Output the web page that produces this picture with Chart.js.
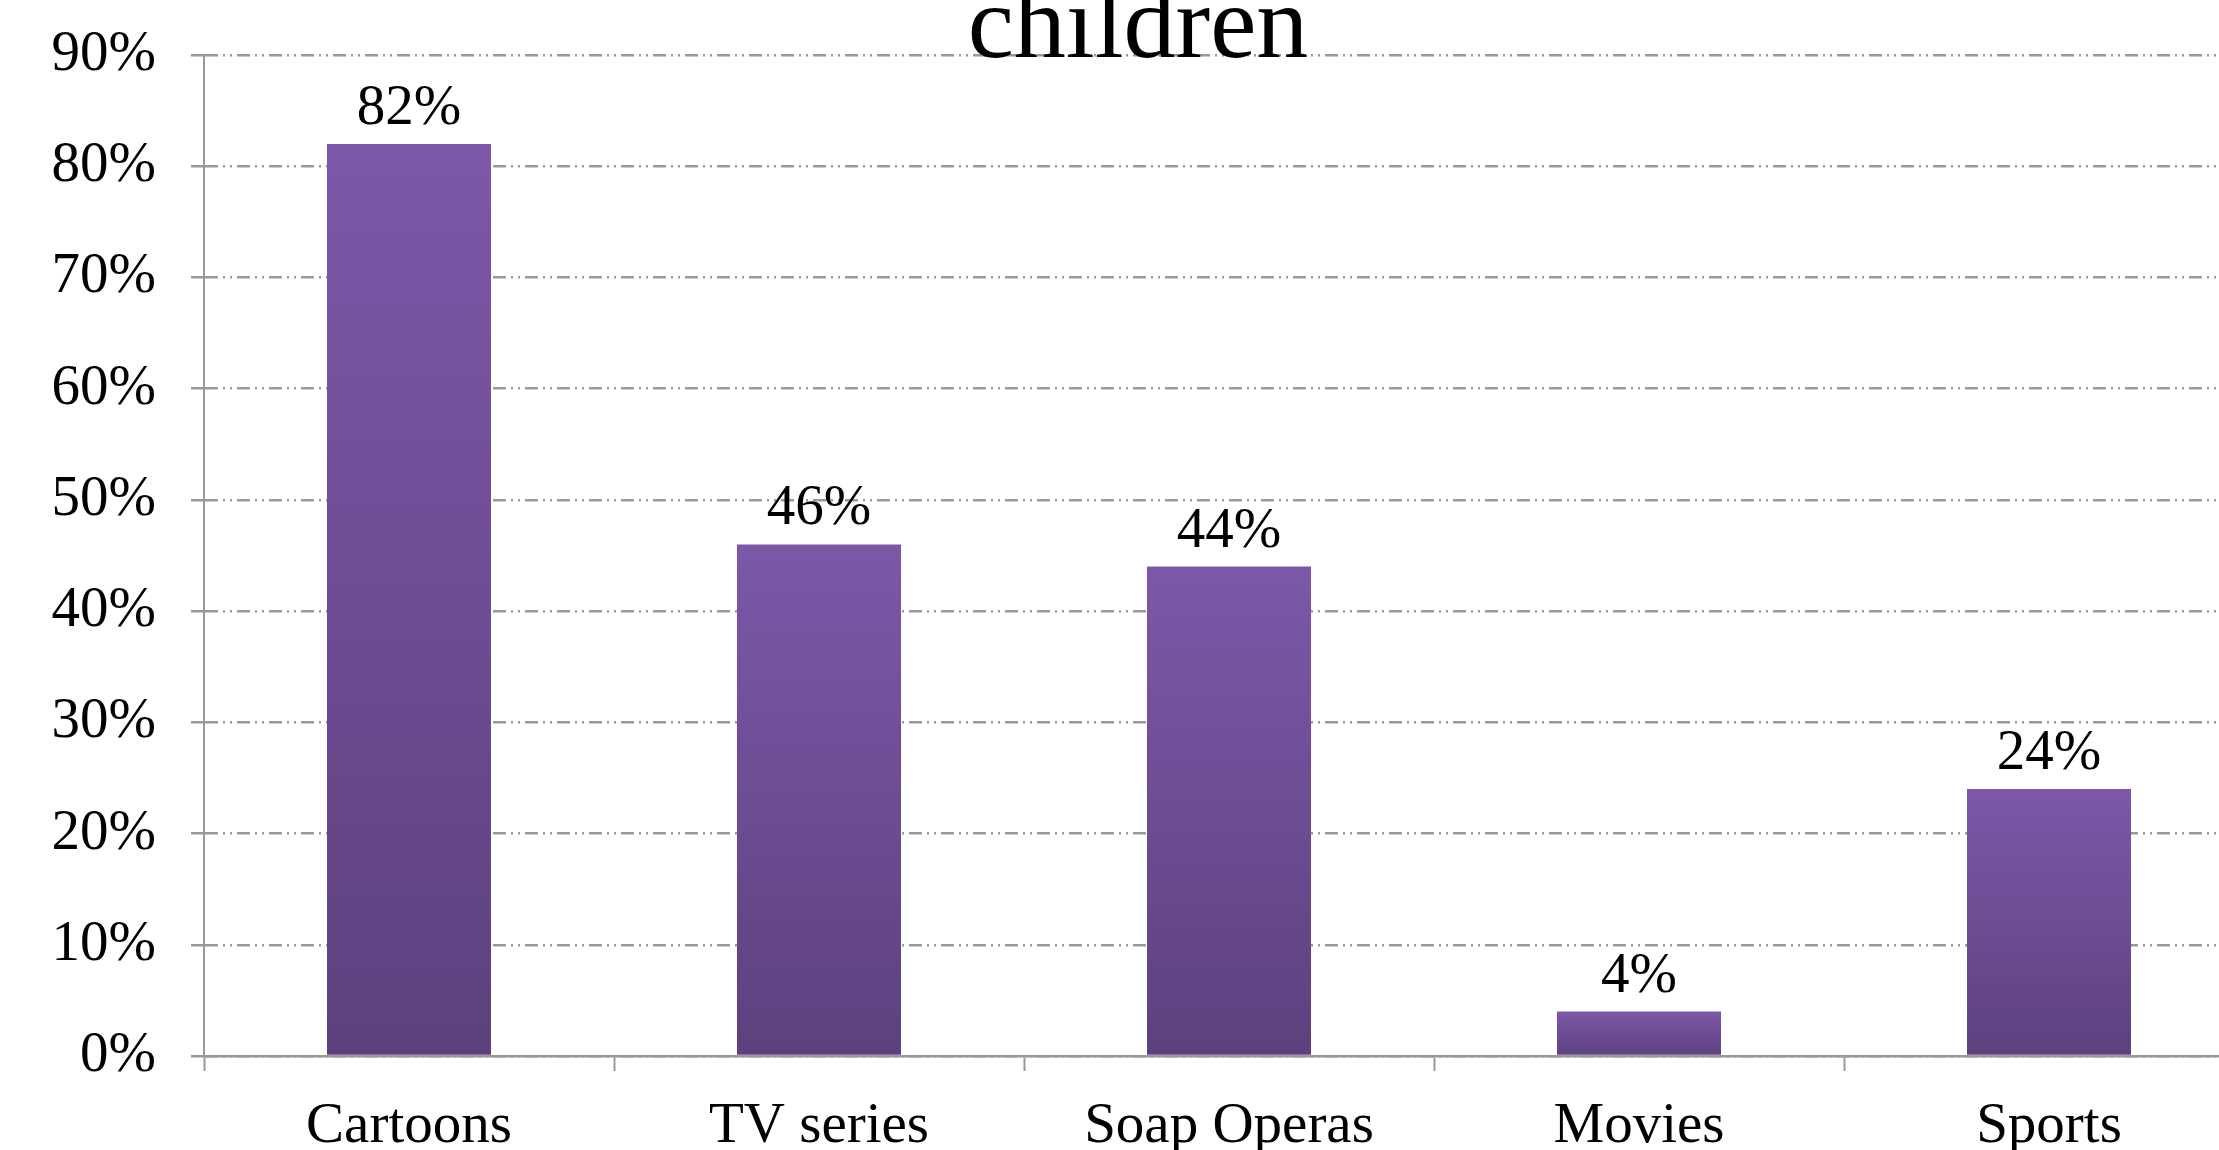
<!DOCTYPE html>
<html>
<head>
<meta charset="utf-8">
<script src="https://cdn.jsdelivr.net/npm/chart.js@4.4.0/dist/chart.umd.min.js"></script>
<style>
  html, body { margin: 0; padding: 0; background: #fff; overflow: hidden; }
  #wrap { position: absolute; left: 0; top: 0; width: 2276px; height: 1150px; }
</style>
</head>
<body>
<div id="wrap"><canvas id="chart"></canvas></div>
<script>
const categories = ["Cartoons", "TV series", "Soap Operas", "Movies", "Sports"];
const shares = [82, 46, 44, 4, 24];
const yTicks = [0, 10, 20, 30, 40, 50, 60, 70, 80, 90];
const titleText = "children";

const serif = "'Liberation Serif', 'DejaVu Serif', serif";

// gradient per bar, light on top and dark at the base
function barFill(ctx) {
  const chart = ctx.chart;
  const y = chart.scales.y;
  if (!y || typeof ctx.raw !== "number") return "#6f4e98";
  const top = y.getPixelForValue(ctx.raw);
  const base = y.getPixelForValue(0);
  if (!isFinite(top) || !isFinite(base) || top === base) return "#6f4e98";
  const g = chart.ctx.createLinearGradient(0, top, 0, base);
  g.addColorStop(0, "#7c58a8");
  g.addColorStop(1, "#5d417e");
  return g;
}

// value labels above each bar + the clipped title
const labelsPlugin = {
  id: "labelsPlugin",
  afterDatasetsDraw(chart) {
    const c = chart.ctx;
    const meta = chart.getDatasetMeta(0);
    c.save();
    c.fillStyle = "#000";
    c.font = "57px " + serif;
    c.textAlign = "center";
    c.textBaseline = "alphabetic";
    meta.data.forEach((bar, i) => {
      c.fillText(shares[i] + "%", bar.x, bar.y - 20);
    });
    c.font = "104px " + serif;
    c.fillText(titleText, 1138, chart.scales.y.getPixelForValue(90) + 2);
    c.restore();
  }
};

new Chart(document.getElementById("chart"), {
  type: "bar",
  data: {
    labels: categories,
    datasets: [{
      data: shares,
      backgroundColor: barFill,
      borderWidth: 0,
      categoryPercentage: 0.4,
      barPercentage: 1.0
    }]
  },
  options: {
    responsive: true,
    maintainAspectRatio: false,
    animation: false,
    layout: { padding: { left: 0, right: 22, top: 55, bottom: 0 } },
    plugins: { legend: { display: false }, tooltip: { enabled: false } },
    scales: {
      x: {
        offset: true,
        grid: {
          offset: true,
          drawOnChartArea: false,
          drawTicks: true,
          tickLength: 15,
          tickColor: "#999",
          tickWidth: 2
        },
        border: { color: "#999", width: 2.5 },
        ticks: { color: "#000", font: { family: serif, size: 57 }, padding: 22, maxRotation: 0 },
        afterFit(scale) {
          scale.height = 94;
          scale.paddingLeft = 0;
          scale.paddingRight = 0;
        }
      },
      y: {
        min: 0,
        max: 90,
        afterBuildTicks(scale) { scale.ticks = yTicks.map(v => ({ value: v })); },
        grid: {
          color: "#999",
          lineWidth: 2.5,
          tickLength: 13,
          tickColor: "#999",
          tickWidth: 2.5,
          tickBorderDash: []
        },
        border: { color: "#999", width: 2, dash: [13, 5, 2, 5, 2, 5] },
        ticks: {
          color: "#000",
          font: { family: serif, size: 57 },
          padding: 35,
          callback: v => v + "%"
        },
        afterFit(scale) {
          scale.width = 204;
          scale.paddingTop = 0;
          scale.paddingBottom = 0;
        }
      }
    }
  },
  plugins: [labelsPlugin]
});
</script>
</body>
</html>
